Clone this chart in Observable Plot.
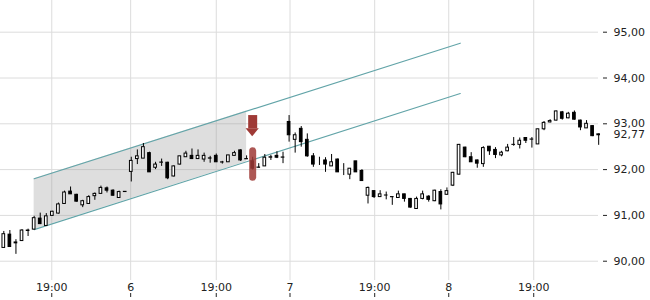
<!DOCTYPE html>
<html><head><meta charset="utf-8">
<script src="https://cdn.jsdelivr.net/npm/d3@7"></script>
<script src="https://cdn.jsdelivr.net/npm/@observablehq/plot@0.6"></script>
<style>body{margin:0;background:#fff}</style>
</head><body><div id="chart"></div>
<script>
const opens = [90.29,90.58,90.39,90.44,90.66,90.69,90.93,90.77,90.99,91.04,
91.25,91.52,91.45,91.22,91.25,91.42,91.47,91.59,91.54,91.38,
91.515,91.95,92.23,92.24,92.36,92.04,92.15,92.15,91.85,92.11,
92.27,92.30,92.23,92.22,92.245,92.30,92.157,92.16,92.30,92.42,
92.23,92.18,92.04,92.07,92.26,92.30,92.26,93.04,92.65,92.89,
92.65,92.29,92.17,92.20,92.07,92.22,92.02,91.89,92.18,91.97,
91.43,91.53,91.40,91.435,91.40,91.38,91.46,91.36,91.14,91.36,
91.41,91.31,91.51,91.45,91.65,91.89,92.48,92.27,92.20,92.12,
92.50,92.43,92.31,92.40,92.54,92.54,92.69,92.657,92.55,92.88,
93.03,93.07,93.25,93.12,93.24,93.07,92.90,92.95,92.75];
const closes = [90.59,90.31,90.41,90.67,90.67,90.94,90.81,90.98,91.08,91.24,
91.50,91.46,91.30,91.31,91.40,91.47,91.60,91.54,91.43,91.51,
91.51,92.19,92.29,92.49,91.94,92.11,92.155,91.81,92.07,92.29,
92.35,92.23,92.30,92.30,92.24,92.16,92.155,92.31,92.36,92.20,
92.225,92.02,92.045,92.26,92.27,92.26,92.265,92.75,92.75,92.60,
92.29,92.11,92.17,92.11,92.16,91.94,92.02,92.02,91.94,91.75,
91.60,91.40,91.46,91.434,91.397,91.46,91.36,91.17,91.36,91.46,
91.34,91.54,91.24,91.53,91.93,92.54,92.27,92.16,92.13,92.47,
92.40,92.32,92.37,92.48,92.541,92.63,92.63,92.655,92.88,93.02,
93.06,93.27,93.11,93.22,93.09,92.92,93.00,92.73,92.77];
const highs = [90.65,90.67,90.47,90.69,90.70,90.98,91.05,91.04,91.09,91.27,
91.53,91.62,91.46,91.33,91.43,91.49,91.64,91.62,91.56,91.53,
91.52,92.27,92.43,92.57,92.38,92.16,92.23,92.16,92.08,92.29,
92.40,92.45,92.43,92.36,92.29,92.34,92.18,92.31,92.40,92.43,
92.30,92.27,92.13,92.33,92.31,92.39,92.38,93.18,92.80,92.94,
92.78,92.35,92.27,92.26,92.33,92.23,92.13,92.02,92.18,92.00,
91.62,91.54,91.54,91.51,91.40,91.53,91.46,91.37,91.40,91.53,
91.43,91.55,91.56,91.60,91.94,92.55,92.49,92.37,92.21,92.50,
92.50,92.48,92.40,92.55,92.70,92.69,92.70,92.70,92.88,93.05,
93.09,93.28,93.27,93.25,93.28,93.08,93.07,92.95,92.78];
const lows = [90.28,90.30,90.15,90.43,90.54,90.68,90.80,90.77,90.98,91.03,
91.25,91.46,91.29,91.17,91.24,91.33,91.47,91.49,91.42,91.37,
91.505,91.73,92.11,92.24,91.94,92.00,92.07,91.78,91.84,92.10,
92.27,92.22,92.22,92.16,92.14,92.16,92.12,92.16,92.30,92.18,
92.22,91.99,92.03,92.07,92.20,92.24,92.13,92.60,92.36,92.49,
92.27,92.05,92.09,91.94,92.07,91.94,91.87,91.78,91.94,91.74,
91.25,91.37,91.39,91.34,91.22,91.38,91.29,91.16,91.13,91.34,
91.29,91.30,91.12,91.44,91.63,91.88,92.26,92.16,92.03,92.05,
92.31,92.24,92.28,92.39,92.51,92.45,92.57,92.47,92.55,92.85,
93.02,93.06,93.08,93.11,93.08,92.85,92.90,92.72,92.53];

const xTickPos = [7.9, 20.9, 35.0, 47.15, 61.1, 73.3, 87.3];
const xTickLabels = ["19:00","6","19:00","7","19:00","8","19:00"];
const yTicks = [90, 91, 92, 93, 94, 95];
const lastClose = 92.77;

const channelX = [5, 75.2];
const channelUpper = [91.80, 94.76];
const channelLower = [90.69, 93.66];
const shadeX = [5, 40];
const shadeUpper = [91.80, 93.28];
const shadeLower = [90.69, 92.17];

const signalIndex = 41;
const arrowTop = 93.18, arrowNeck = 92.89, arrowTip = 92.72;
const pillTop = 92.40, pillBottom = 91.82;

const candles = opens.map((o, i) => ({i, open: o, close: closes[i], high: highs[i], low: lows[i]}));
const up = candles.filter(d => d.close >= d.open);
const down = candles.filter(d => d.close < d.open);
const channel = channelX.map((x, k) => ({x, upper: channelUpper[k], lower: channelLower[k]}));
const shade = shadeX.map((x, k) => ({x, upper: shadeUpper[k], lower: shadeLower[k]}));
const headHalf = 1.09;
const head = [
  {x: signalIndex - headHalf, y: arrowNeck},
  {x: signalIndex, y: arrowTip},
  {x: signalIndex + headHalf, y: arrowNeck}
];
const fmt = d => d.toFixed(2).replace(".", ",");
const gridColor = "#dcdcdc";
const red = "#9f3a36";
const bodyHalf = 0.22;

const chart = Plot.plot({
  width: 650,
  height: 300,
  marginLeft: 0,
  marginRight: 48,
  marginTop: 0,
  marginBottom: 20,
  style: {fontFamily: "DejaVu Sans", fontSize: "11px", color: "#222", background: "#fff"},
  x: {domain: [-0.544, 98.63]},
  y: {domain: [89.579, 95.692]},
  marks: [
    Plot.gridY({ticks: yTicks, stroke: gridColor, strokeOpacity: 1, insetRight: 4}),
    Plot.gridX({ticks: xTickPos, stroke: gridColor, strokeOpacity: 1}),
    Plot.areaY(shade, {x: "x", y1: "lower", y2: "upper", fill: "#9a9a9a", fillOpacity: 0.33}),
    Plot.line(channel, {x: "x", y: "upper", stroke: "#62a4a8", strokeWidth: 1.1}),
    Plot.line(channel, {x: "x", y: "lower", stroke: "#62a4a8", strokeWidth: 1.1}),
    Plot.ruleX(candles, {x: "i", y1: "low", y2: "high", stroke: "#000", strokeWidth: 1}),
    Plot.rect(up, {x1: d => d.i - bodyHalf, x2: d => d.i + bodyHalf, y1: "open", y2: "close", fill: "#fff", stroke: "#000", strokeWidth: 1}),
    Plot.rect(down, {x1: d => d.i - bodyHalf, x2: d => d.i + bodyHalf, y1: "open", y2: "close", fill: "#000", stroke: "#000", strokeWidth: 1}),
    Plot.ruleX([signalIndex], {x: d => d, y1: () => pillTop, y2: () => pillBottom, stroke: red, strokeWidth: 7, strokeLinecap: "round", strokeOpacity: 0.85}),
    Plot.ruleX([signalIndex], {x: d => d, y1: () => arrowTop, y2: () => arrowNeck, stroke: red, strokeWidth: 9}),
    Plot.areaY(head, {x: "x", y1: () => arrowNeck, y2: "y", fill: red}),
    Plot.axisY({anchor: "right", ticks: yTicks, tickSize: 4, tickPadding: 7, tickFormat: fmt, label: null}),
    Plot.text([lastClose], {y: d => d, text: d => fmt(d), frameAnchor: "right", textAnchor: "start", dx: 11, fill: "#222", stroke: "#fff", strokeWidth: 5}),
    Plot.axisX({ticks: xTickPos, tickFormat: d => xTickLabels[xTickPos.indexOf(d)], tickSize: 0, tickPadding: 3, label: null}),
    Plot.axisX({ticks: xTickPos, tickFormat: () => "", tickSize: 4, dy: 13, label: null})
  ]
});
document.getElementById("chart").appendChild(chart);
</script>
</body></html>
